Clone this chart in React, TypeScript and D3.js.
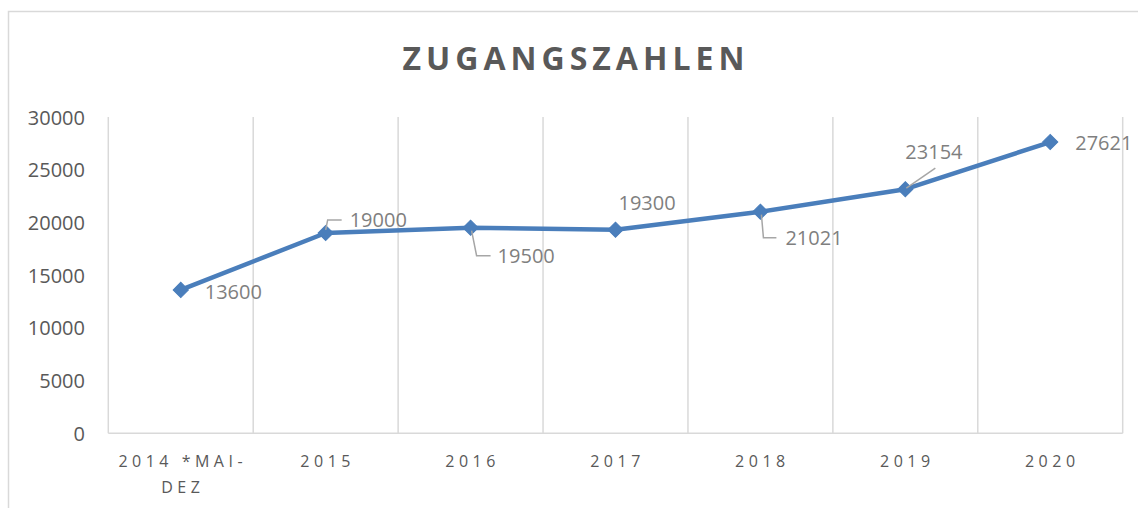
import React from "react";
import * as d3 from "d3";

const categories = ["2014 *MAI-DEZ", "2015", "2016", "2017", "2018", "2019", "2020"];
const categoryLines = [["2014 *MAI-", "DEZ"], ["2015"], ["2016"], ["2017"], ["2018"], ["2019"], ["2020"]];
const values = [13600, 19000, 19500, 19300, 21021, 23154, 27621];
const yTicks = [0, 5000, 10000, 15000, 20000, 25000, 30000];
const title = "ZUGANGSZAHLEN";

// label placement relative to the marker (styling only)
const labelOffsets: { dx: number; dy: number; leader: [number, number][] | null }[] = [
  { dx: 24, dy: 2, leader: null },
  { dx: 24, dy: -13, leader: [[0, -3], [2, -13], [16, -13]] },
  { dx: 27, dy: 28, leader: [[1, 3], [6, 28], [20, 28]] },
  { dx: 3, dy: -27, leader: null },
  { dx: 25, dy: 26, leader: [[1, 3], [3, 26], [16, 26]] },
  { dx: 0, dy: -38, leader: [[1, -1], [30, -21]] },
  { dx: 25, dy: 0, leader: null },
];

export default function App() {
  const W = 1138, H = 508;
  const left = 108.3, right = 1122.7, top = 117, bottom = 433.3;
  const x = d3.scaleBand<string>().domain(categories).range([left, right]).padding(0);
  const y = d3.scaleLinear().domain([0, 30000]).range([bottom, top]);
  const cx = (i: number) => (x(categories[i]) as number) + x.bandwidth() / 2;
  const line = d3.line<number>().x((_, i) => cx(i)).y((d) => y(d));
  const diamond = d3.symbol().type(d3.symbolSquare).size(115)();
  const bounds = categories.map((c) => x(c) as number).concat([right]);
  const font = "'Open Sans', sans-serif";
  return (
    <svg width={W} height={H} style={{ position: "absolute", left: 0, top: 0 }} fontFamily={font}>
      <rect x={0} y={0} width={W} height={H} fill="#fff" />
      <rect x={8.5} y={11.5} width={W + 20} height={H + 20} fill="none" stroke="#d9d9d9" strokeWidth={1.5} />
      <text x={576} y={70} textAnchor="middle" fontSize={32} fontWeight="bold" fill="#595959" letterSpacing={5}>{title}</text>
      {bounds.map((b, i) => (
        <line key={i} x1={b} x2={b} y1={top} y2={bottom} stroke="#d9d9d9" strokeWidth={1.5} />
      ))}
      <line x1={left} x2={right} y1={bottom} y2={bottom} stroke="#d9d9d9" strokeWidth={1.5} />
      {yTicks.map((t) => (
        <text key={t} x={85} y={y(t)} textAnchor="end" dominantBaseline="central" fontSize={20} fill="#595959">{t}</text>
      ))}
      {categoryLines.map((lines, i) => (
        <text key={i} x={cx(i) + 2} y={467} textAnchor="middle" fontSize={16} fill="#595959" letterSpacing={4.5}>
          {lines.map((l, j) => (
            <tspan key={j} x={cx(i) + 2} dy={j === 0 ? 0 : 26}>{l}</tspan>
          ))}
        </text>
      ))}
      <path d={line(values) as string} fill="none" stroke="#4a7ebb" strokeWidth={4.5} strokeLinejoin="round" />
      {values.map((v, i) => (
        <path key={i} d={diamond as string} transform={`translate(${cx(i)},${y(v)}) rotate(45)`} fill="#4a7ebb" stroke="#4a7ebb" strokeWidth={1} />
      ))}
      {values.map((v, i) => {
        const o = labelOffsets[i];
        const px = cx(i), py = y(v);
        return (
          <g key={i}>
            {o.leader && (
              <polyline points={o.leader.map(([a, b]) => `${px + a},${py + b}`).join(" ")} fill="none" stroke="#a6a6a6" strokeWidth={1.5} />
            )}
            <text x={px + o.dx} y={py + o.dy} dominantBaseline="central" fontSize={20} fill="#7f7f7f">{v}</text>
          </g>
        );
      })}
    </svg>
  );
}
